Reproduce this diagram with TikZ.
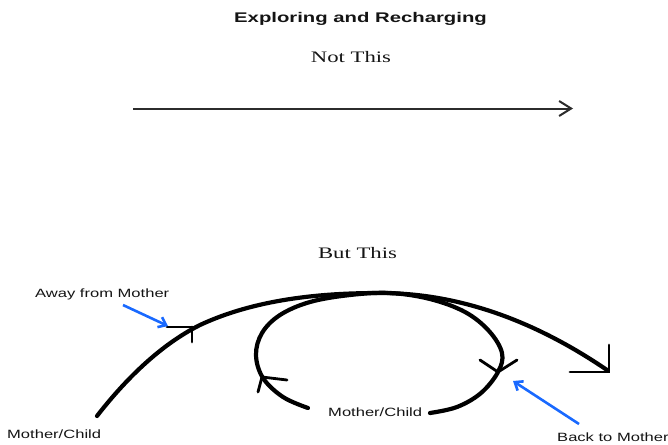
\documentclass[tikz,border=0pt]{standalone}
\usepackage{fontspec}
\newfontfamily\titlefont[FakeStretch=1.45]{Liberation Sans}
\newfontfamily\serfont[FakeStretch=1.42]{Liberation Serif}
\newfontfamily\lblfont[FakeStretch=1.38]{Liberation Sans}
\usetikzlibrary{arrows.meta}
\definecolor{arrowblue}{RGB}{25,105,255}
\definecolor{ink}{RGB}{20,20,20}
\begin{document}
\begin{tikzpicture}[x=1pt,y=-1pt,
  titletext/.style={font=\titlefont\bfseries\fontsize{14}{16}\selectfont, inner sep=0pt, anchor=base, text=ink},
  headtext/.style={font=\serfont\fontsize{16}{18}\selectfont, inner sep=0pt, anchor=base, text=ink},
  lbltext/.style={font=\lblfont\fontsize{12}{14}\selectfont, inner sep=0pt, anchor=base west, text=ink},
  pathline/.style={line width=4.2pt, line cap=round, line join=round, draw=black},
  tipline/.style={line width=2.8pt, line cap=round, draw=black},
  bluearrow/.style={draw=arrowblue, line width=2.6pt, -{Straight Barb[length=7pt,width=11pt]}},
  straightarrow/.style={draw=ink!90, line width=2pt, -{Straight Barb[length=12pt,width=15pt]}},
]
\useasboundingbox (0,0) rectangle (668,444);

% texts
\node[titletext] (title) at (360.5,23) {Exploring and Recharging};
\node[headtext] (notthis) at (351,62) {Not This};
\node[headtext] (butthis) at (357.5,258) {But This};
\node[lbltext] (away) at (35,297) {Away from Mother};
\node[lbltext] (mcleft) at (7,438) {Mother/Child};
\node[lbltext] (mcmid) at (328,416) {Mother/Child};
\node[lbltext] (back) at (557,441) {Back to Mother};

% straight arrow
\coordinate (ls) at (133,108.5);
\coordinate (le) at (573,108.5);
\draw[straightarrow] (ls) -- (le);

% big outward curve
\coordinate (c0) at (97,416);
\coordinate (c1) at (200,325);
\coordinate (c2) at (380,293);
\coordinate (c3) at (607,370);
\draw[pathline] (c0) .. controls (125,380) and (160,345) .. (c1)
  .. controls (260,297) and (330,293) .. (c2)
  .. controls (456,293) and (531.7,318.7) .. (c3);

% inner loop
\draw[pathline] plot[smooth, tension=0.6] coordinates {
  (308,408) (283,397) (263,378) (256,355) (262,333) (280,315) (310,302)
  (350,295) (390,293) (430,299) (465,312) (489,331) (502,353) (498,372)
  (481,393) (457,407) (430,413)};

% arrow tips drawn by hand
\coordinate (t1) at (192,327);
\draw[tipline] (167,327) -- (196,327);
\draw[tipline] (t1) -- (192,342);

\coordinate (t2) at (609,372);
\draw[tipline] (609,345) -- (t2) -- (570,372);

\coordinate (t3) at (498,372);
\draw[tipline] (480,360) -- (t3) -- (517,360);

\coordinate (t4) at (262,377);
\draw[tipline] (287,380) -- (t4) -- (258,392);

% blue pointer arrows
\coordinate (b1s) at (123,305);
\coordinate (b1e) at (168,326);
\draw[bluearrow] (b1s) -- (b1e);
\coordinate (b2s) at (579,424);
\coordinate (b2e) at (513,381);
\draw[bluearrow] (b2s) -- (b2e);
\end{tikzpicture}
\end{document}
